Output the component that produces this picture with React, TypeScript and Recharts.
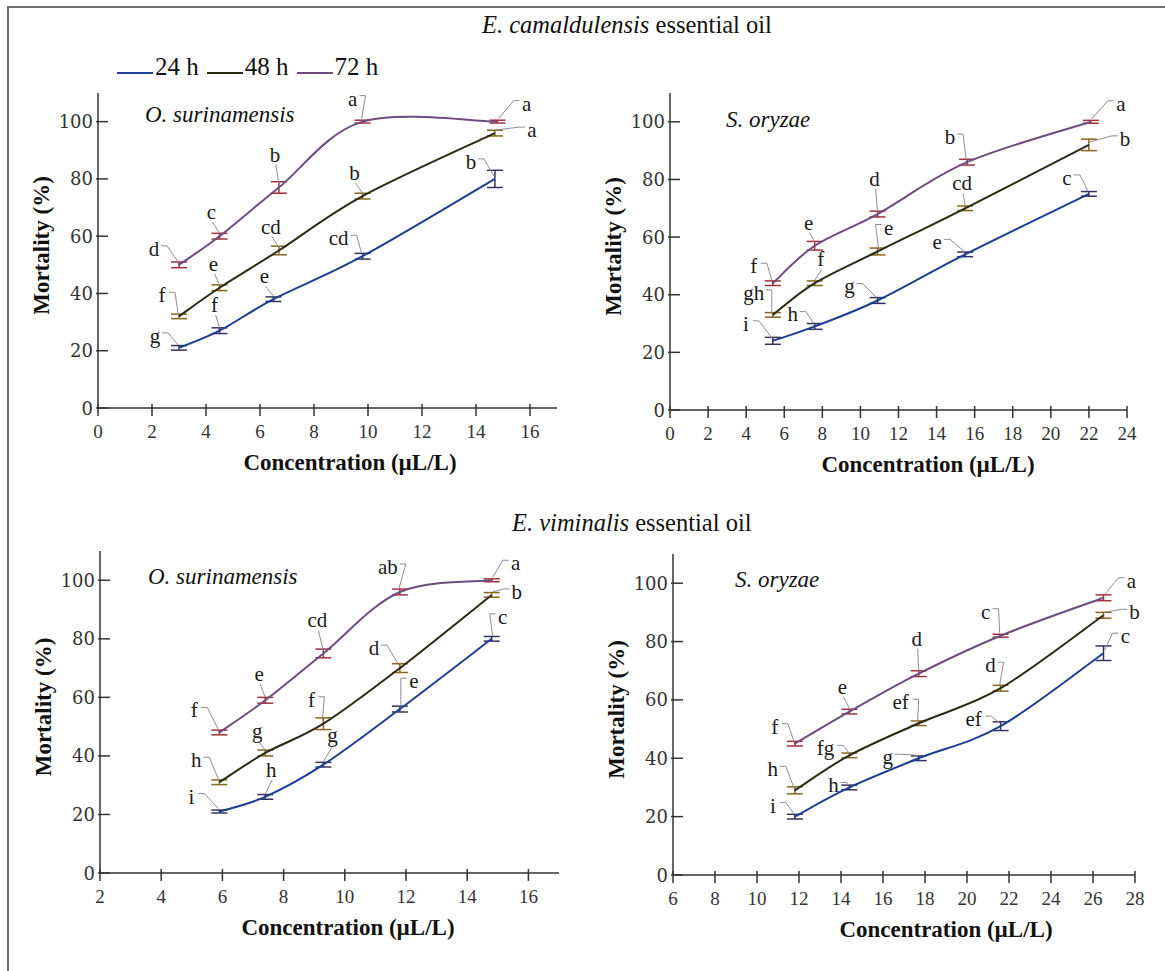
import React from 'react';
import { LineChart, Line, XAxis, YAxis, ErrorBar, LabelList, Legend } from 'recharts';

const SERIF = "'Liberation Serif', 'Times New Roman', serif";
const WIDE_SERIF = "'DejaVu Serif', 'Liberation Serif', serif";

// ---------- shared ----------
const seriesNames = ['24 h', '48 h', '72 h'];
const yTicks = [0, 20, 40, 60, 80, 100];

// ---------- E. camaldulensis – O. surinamensis ----------
const camOsTicks = [0, 2, 4, 6, 8, 10, 12, 14, 16];
const camOsConc24 = [3, 4.5, 6.5, 9.8, 14.7];
const camOsConc48 = [3, 4.5, 6.7, 9.8, 14.7];
const camOsConc72 = [3, 4.5, 6.7, 9.8, 14.8];
const camOsMort24 = [21, 27, 38, 53, 80];
const camOsMort48 = [32, 42, 55, 74, 96];
const camOsMort72 = [50, 60, 77, 100, 100];
const camOsErr24 = [0.8, 1, 0.8, 1, 3];
const camOsErr48 = [0.8, 1, 1.5, 1, 1];
const camOsErr72 = [1, 1, 2, 0.5, 0.5];
const camOsLetters24 = ['g', 'f', 'e', 'cd', 'b'];
const camOsLetters48 = ['f', 'e', 'cd', 'b', 'a'];
const camOsLetters72 = ['d', 'c', 'b', 'a', 'a'];

// ---------- E. camaldulensis – S. oryzae ----------
const camSoTicks = [0, 2, 4, 6, 8, 10, 12, 14, 16, 18, 20, 22, 24];
const camSoConc24 = [5.4, 7.6, 10.9, 15.5, 22];
const camSoConc48 = [5.4, 7.6, 10.9, 15.5, 22];
const camSoConc72 = [5.4, 7.6, 10.9, 15.6, 22.1];
const camSoMort24 = [24, 29, 38, 54, 75];
const camSoMort48 = [33, 44, 55, 70, 92];
const camSoMort72 = [44, 57, 68, 86, 100];
const camSoErr24 = [1.2, 1, 1, 0.8, 0.8];
const camSoErr48 = [0.8, 0.8, 1.2, 0.8, 2];
const camSoErr72 = [0.8, 1.5, 1, 1, 0.5];
const camSoLetters24 = ['i', 'h', 'g', 'e', 'c'];
const camSoLetters48 = ['gh', 'f', 'e', 'cd', 'b'];
const camSoLetters72 = ['f', 'e', 'd', 'b', 'a'];

// ---------- E. viminalis – O. surinamensis ----------
const vimOsTicks = [2, 4, 6, 8, 10, 12, 14, 16];
const vimOsConc = [5.9, 7.4, 9.3, 11.8, 14.8];
const vimOsMort24 = [21, 26, 37, 56, 80];
const vimOsMort48 = [31, 41, 51, 70, 95];
const vimOsMort72 = [48, 59, 75, 96, 100];
const vimOsErr24 = [0.5, 0.8, 0.8, 1, 0.8];
const vimOsErr48 = [0.8, 1, 2, 1.5, 0.8];
const vimOsErr72 = [0.8, 1, 1.5, 1, 0.5];
const vimOsLetters24 = ['i', 'h', 'g', 'e', 'c'];
const vimOsLetters48 = ['h', 'g', 'f', 'd', 'b'];
const vimOsLetters72 = ['f', 'e', 'cd', 'ab', 'a'];

// ---------- E. viminalis – S. oryzae ----------
const vimSoTicks = [6, 8, 10, 12, 14, 16, 18, 20, 22, 24, 26, 28];
const vimSoConc = [11.8, 14.4, 17.7, 21.6, 26.5];
const vimSoMort24 = [20, 30, 40, 51, 76];
const vimSoMort48 = [29, 41, 52, 64, 89];
const vimSoMort72 = [45, 56, 69, 82, 95];
const vimSoErr24 = [0.8, 0.8, 0.8, 1.5, 2.5];
const vimSoErr48 = [1.2, 0.8, 0.8, 1, 1];
const vimSoErr72 = [0.8, 0.8, 1, 0.5, 1];
const vimSoLetters24 = ['i', 'h', 'g', 'ef', 'c'];
const vimSoLetters48 = ['h', 'fg', 'ef', 'd', 'b'];
const vimSoLetters72 = ['f', 'e', 'd', 'c', 'a'];

// ---------- styling (label placement offsets in px, colours) ----------
const lineColors = ['#1d3f92', '#2a2a14', '#6d4d80'];
const errColors = ['#34345e', '#86661e', '#a3303c'];

const camOsOff = [
  [[-24, -12], [-5, -26], [-9, -23], [-24, -18], [-24, -17]],
  [[-17, -21], [-6, -24], [-8, -24], [-8, -23], [37, -3]],
  [[-25, -16], [-8, -24], [-4, -33], [-10, -23], [29, -18]],
];
const camSoOff = [
  [[-27, -17], [-22, -12], [-28, -14], [-28, -12], [-22, -16]],
  [[-19, -22], [6, -24], [11, -24], [-3, -25], [36, -6]],
  [[-19, -17], [-6, -23], [-3, -35], [-17, -25], [30, -18]],
];
const vimOsOff = [
  [[-28, -15], [6, -27], [9, -30], [14, -28], [11, -22]],
  [[-23, -22], [-8, -22], [-12, -24], [-26, -20], [25, -3]],
  [[-25, -22], [-6, -26], [-6, -33], [-12, -25], [24, -17]],
];
const vimSoOff = [
  [[-22, -11], [-16, -2], [-31, -1], [-27, -7], [22, -17]],
  [[-22, -21], [-24, -7], [-18, -21], [-10, -23], [31, -3]],
  [[-20, -17], [-7, -25], [-2, -35], [-15, -24], [28, -17]],
];

// Excel-like smoothed line (cardinal spline through points)
const smoothCurve: any = (context: any) => {
  let pts: number[][] = [];
  return {
    areaStart() {},
    areaEnd() {},
    lineStart() {
      pts = [];
    },
    point(x: number, y: number) {
      pts.push([+x, +y]);
    },
    lineEnd() {
      const n = pts.length;
      if (!n) return;
      context.moveTo(pts[0][0], pts[0][1]);
      for (let i = 0; i < n - 1; i++) {
        const p0 = pts[i > 0 ? i - 1 : i];
        const p1 = pts[i];
        const p2 = pts[i + 1];
        const p3 = pts[i + 2 < n ? i + 2 : i + 1];
        context.bezierCurveTo(
          p1[0] + (p2[0] - p0[0]) / 6,
          p1[1] + (p2[1] - p0[1]) / 6,
          p2[0] - (p3[0] - p1[0]) / 6,
          p2[1] - (p3[1] - p1[1]) / 6,
          p2[0],
          p2[1]
        );
      }
    },
  };
};

const rows = (conc: number[], mort: number[], err: number[]) =>
  conc.map((x, i) => ({ x, y: mort[i], err: err[i], idx: i }));

type Series = { data: any[]; letters: string[]; offsets: number[][] };

const makeLetter = (letters: string[], offsets: number[][]) => (props: any) => {
  const i = Number(props.value);
  const vb = props.viewBox || {};
  const px = vb.x != null ? vb.x : props.x;
  const py = vb.y != null ? vb.y : props.y;
  if (px == null || py == null || isNaN(i) || !letters[i]) return null;
  const [dx, dy] = offsets[i];
  const lx = px + dx;
  const ly = py + dy;
  const half = letters[i].length > 1 ? 11 : 6;
  let d;
  if (dx <= -10) d = `M${lx + half + 1},${ly - 3} H${lx + half + 7} L${px - 1},${py - 3}`;
  else if (dx >= 10) d = `M${lx - half - 1},${ly - 3} H${lx - half - 7} L${px + 1},${py - 3}`;
  else d = `M${lx + 1},${ly + 10} L${px},${py - 3}`;
  return (
    <g>
      <path d={d} fill="none" stroke="#8c8c9c" strokeWidth={1} />
      <text x={lx} y={ly} textAnchor="middle" dominantBaseline="central" fontFamily={SERIF} fontSize={21} fill="#1a1a1a">
        {letters[i]}
      </text>
    </g>
  );
};

const XTick = (props: any) => {
  const { x, y, payload } = props;
  return (
    <g>
      <line x1={x} x2={x} y1={y - 4} y2={y + 8} stroke="#333" strokeWidth={1.5} />
      <text x={x} y={y + 23} textAnchor="middle" dominantBaseline="central" fontFamily={SERIF} fontSize={19} fill="#333">
        {payload.value}
      </text>
    </g>
  );
};

const YTick = (props: any) => {
  const { x, y, payload } = props;
  return (
    <g>
      <line x1={x - 2} x2={x + 10} y1={y} y2={y} stroke="#333" strokeWidth={1.5} />
      <text x={x - 5} y={y} textAnchor="end" dominantBaseline="central" fontFamily={WIDE_SERIF} fontSize={18} fill="#333">
        {payload.value}
      </text>
    </g>
  );
};

const legendContent = (props: any) => {
  const items = props.payload || [];
  return (
    <div style={{ display: 'flex', fontFamily: SERIF, fontSize: 25, lineHeight: '30px', color: '#111', whiteSpace: 'nowrap' }}>
      {items.map((it: any, k: number) => (
        <div key={k} style={{ display: 'flex', alignItems: 'flex-end', marginRight: 8 }}>
          <span style={{ display: 'inline-block', width: 36, borderTop: `2px solid ${it.color}`, marginBottom: 8, marginRight: 2 }} />
          <span>{it.value}</span>
        </div>
      ))}
    </div>
  );
};

const Y_W = 90;
const M_TOP = 60;
const M_RIGHT = 45;
const X_H = 80;

type PanelProps = {
  plotLeft: number;
  plotTop: number;
  plotW: number;
  plotH: number;
  xDomain: number[];
  xTicks: number[];
  series: Series[];
  xTitleCenter: number;
  species: string;
  speciesX: number;
  speciesY: number;
  legend?: boolean;
};

const Panel = (p: PanelProps) => {
  const chartLeft = p.plotLeft - Y_W;
  const chartTop = p.plotTop - M_TOP;
  const W = p.plotW + Y_W + M_RIGHT;
  const H = p.plotH + M_TOP + X_H;
  const xTitle = () => (
    <text x={p.xTitleCenter - chartLeft} y={M_TOP + p.plotH + 54} textAnchor="middle" dominantBaseline="central" fontFamily={SERIF} fontWeight="bold" fontSize={23} fill="#111">
      Concentration (µL/L)
    </text>
  );
  const yx = Y_W - 57;
  const yy = M_TOP + p.plotH / 2 - 5;
  const yTitle = () => (
    <text x={yx} y={yy} transform={`rotate(-90 ${yx} ${yy})`} textAnchor="middle" dominantBaseline="central" fontFamily={SERIF} fontWeight="bold" fontSize={23} fill="#111">
      Mortality (%)
    </text>
  );
  return (
    <>
      <div style={{ position: 'absolute', left: chartLeft, top: chartTop }}>
        <LineChart width={W} height={H} margin={{ top: M_TOP, right: M_RIGHT, left: 0, bottom: 0 }}>
          <XAxis
            type="number"
            dataKey="x"
            domain={p.xDomain}
            ticks={p.xTicks}
            allowDataOverflow
            height={X_H}
            tickSize={0}
            tickMargin={0}
            tickLine={false}
            interval={0}
            axisLine={{ stroke: '#333', strokeWidth: 1.5 }}
            tick={XTick}
            label={{ content: xTitle }}
          />
          <YAxis
            type="number"
            domain={[0, 110]}
            ticks={yTicks}
            allowDataOverflow
            width={Y_W}
            tickSize={0}
            tickMargin={0}
            tickLine={false}
            interval={0}
            axisLine={{ stroke: '#333', strokeWidth: 1.5 }}
            tick={YTick}
            label={{ content: yTitle }}
          />
          {p.legend && (
            <Legend
              layout="vertical"
              align="center"
              verticalAlign="middle"
              wrapperStyle={{ left: 109, top: 19, width: 320, height: 30 }}
              content={legendContent}
            />
          )}
          {p.series.map((s, k) => (
            <Line
              key={k}
              name={seriesNames[k]}
              data={s.data}
              dataKey="y"
              type={smoothCurve}
              stroke={lineColors[k]}
              strokeWidth={2}
              dot={false}
              activeDot={false}
              isAnimationActive={false}
            >
              <ErrorBar dataKey="err" direction="y" width={8} stroke={errColors[k]} strokeWidth={1.5} />
              <LabelList dataKey="idx" content={makeLetter(s.letters, s.offsets)} />
            </Line>
          ))}
        </LineChart>
      </div>
      <div
        style={{
          position: 'absolute',
          left: p.speciesX,
          top: p.speciesY - 15,
          height: 30,
          lineHeight: '30px',
          fontFamily: SERIF,
          fontStyle: 'italic',
          fontSize: 23,
          color: '#111',
          whiteSpace: 'nowrap',
        }}
      >
        {p.species}
      </div>
    </>
  );
};

const Title = ({ x, y, italic, rest }: { x: number; y: number; italic: string; rest: string }) => (
  <div
    style={{
      position: 'absolute',
      left: x,
      top: y - 15,
      height: 30,
      lineHeight: '30px',
      fontFamily: SERIF,
      fontSize: 24.5,
      color: '#111',
      whiteSpace: 'nowrap',
    }}
  >
    <i>{italic}</i>
    {rest}
  </div>
);

export default function App() {
  const camOs: Series[] = [
    { data: rows(camOsConc24, camOsMort24, camOsErr24), letters: camOsLetters24, offsets: camOsOff[0] },
    { data: rows(camOsConc48, camOsMort48, camOsErr48), letters: camOsLetters48, offsets: camOsOff[1] },
    { data: rows(camOsConc72, camOsMort72, camOsErr72), letters: camOsLetters72, offsets: camOsOff[2] },
  ];
  const camSo: Series[] = [
    { data: rows(camSoConc24, camSoMort24, camSoErr24), letters: camSoLetters24, offsets: camSoOff[0] },
    { data: rows(camSoConc48, camSoMort48, camSoErr48), letters: camSoLetters48, offsets: camSoOff[1] },
    { data: rows(camSoConc72, camSoMort72, camSoErr72), letters: camSoLetters72, offsets: camSoOff[2] },
  ];
  const vimOs: Series[] = [
    { data: rows(vimOsConc, vimOsMort24, vimOsErr24), letters: vimOsLetters24, offsets: vimOsOff[0] },
    { data: rows(vimOsConc, vimOsMort48, vimOsErr48), letters: vimOsLetters48, offsets: vimOsOff[1] },
    { data: rows(vimOsConc, vimOsMort72, vimOsErr72), letters: vimOsLetters72, offsets: vimOsOff[2] },
  ];
  const vimSo: Series[] = [
    { data: rows(vimSoConc, vimSoMort24, vimSoErr24), letters: vimSoLetters24, offsets: vimSoOff[0] },
    { data: rows(vimSoConc, vimSoMort48, vimSoErr48), letters: vimSoLetters48, offsets: vimSoOff[1] },
    { data: rows(vimSoConc, vimSoMort72, vimSoErr72), letters: vimSoLetters72, offsets: vimSoOff[2] },
  ];

  return (
    <div style={{ position: 'absolute', left: 0, top: 0, width: 1165, height: 971, background: '#fff', overflow: 'hidden' }}>
      <div style={{ position: 'absolute', left: 7, top: 6, width: 1170, height: 980, borderTop: '2px solid #6e6e6e', borderLeft: '2px solid #6e6e6e' }} />
      <Title x={482} y={25} italic="E. camaldulensis" rest=" essential oil" />
      <Title x={512} y={523} italic="E. viminalis" rest=" essential oil" />
      <Panel
        plotLeft={98}
        plotTop={93}
        plotW={459}
        plotH={315}
        xDomain={[0, 17]}
        xTicks={camOsTicks}
        series={camOs}
        xTitleCenter={350}
        species="O. surinamensis"
        speciesX={145}
        speciesY={115}
        legend
      />
      <Panel
        plotLeft={670}
        plotTop={93}
        plotW={457}
        plotH={317}
        xDomain={[0, 24]}
        xTicks={camSoTicks}
        series={camSo}
        xTitleCenter={928}
        species="S. oryzae"
        speciesX={726}
        speciesY={120}
      />
      <Panel
        plotLeft={100}
        plotTop={551}
        plotW={459}
        plotH={322}
        xDomain={[2, 17]}
        xTicks={vimOsTicks}
        series={vimOs}
        xTitleCenter={348}
        species="O. surinamensis"
        speciesX={148}
        speciesY={577}
      />
      <Panel
        plotLeft={673}
        plotTop={554}
        plotW={462}
        plotH={321}
        xDomain={[6, 28]}
        xTicks={vimSoTicks}
        series={vimSo}
        xTitleCenter={946}
        species="S. oryzae"
        speciesX={735}
        speciesY={580}
      />
    </div>
  );
}
